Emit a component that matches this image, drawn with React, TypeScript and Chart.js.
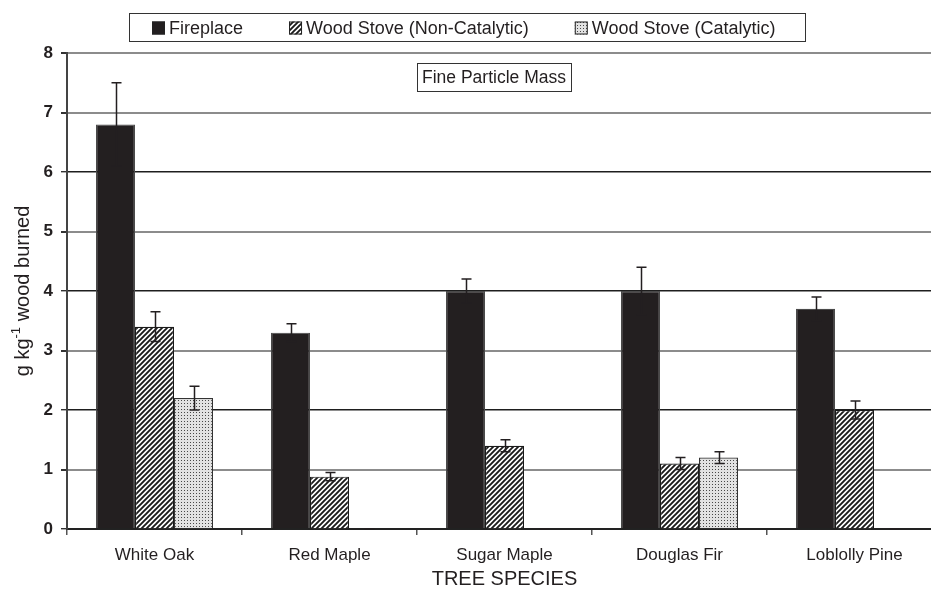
import React, { useEffect, useRef } from 'react';
import { Chart, registerables } from 'chart.js';

Chart.register(...registerables);

// ---- data ----
const categories = ['White Oak', 'Red Maple', 'Sugar Maple', 'Douglas Fir', 'Loblolly Pine'];
const seriesNames = ['Fireplace', 'Wood Stove (Non-Catalytic)', 'Wood Stove (Catalytic)'];
const fireplace = [6.8, 3.3, 4.0, 4.0, 3.7];
const fireplaceErr = [0.7, 0.15, 0.2, 0.4, 0.2];
const nonCatalytic = [3.4, 0.88, 1.4, 1.1, 2.0];
const nonCatalyticErr = [0.25, 0.07, 0.1, 0.1, 0.15];
const catalytic = [2.2, 0, 0, 1.2, 0];
const catalyticErr = [0.2, 0, 0, 0.1, 0];
const yMin = 0;
const yMax = 8;
const yStep = 1;
const chartTitle = 'Fine Particle Mass';
const xTitle = 'TREE SPECIES';
const yTitleMain = 'g kg';
const yTitleSup = '-1';
const yTitleRest = ' wood burned';

const FONT = "'Liberation Sans', Arial, sans-serif";
const INK = '#231f20';

function makeHatch(): CanvasPattern | string {
  const c = document.createElement('canvas');
  const s = 5;
  c.width = s;
  c.height = s;
  const g = c.getContext('2d');
  if (!g) return '#888';
  g.fillStyle = '#ffffff';
  g.fillRect(0, 0, s, s);
  g.strokeStyle = '#1a1a1a';
  g.lineWidth = 1.9;
  g.beginPath();
  g.moveTo(0, s);
  g.lineTo(s, 0);
  g.moveTo(-1, 1);
  g.lineTo(1, -1);
  g.moveTo(s - 1, s + 1);
  g.lineTo(s + 1, s - 1);
  g.stroke();
  return g.createPattern(c, 'repeat') || '#888';
}

function makeDots(): CanvasPattern | string {
  const c = document.createElement('canvas');
  c.width = 3;
  c.height = 3;
  const g = c.getContext('2d');
  if (!g) return '#ddd';
  g.fillStyle = '#e2e2e2';
  g.fillRect(0, 0, 3, 3);
  g.fillStyle = '#484848';
  g.fillRect(1, 1, 1, 1);
  return g.createPattern(c, 'repeat') || '#ddd';
}

export default function App() {
  const ref = useRef<HTMLCanvasElement | null>(null);

  useEffect(() => {
    const canvas = ref.current;
    if (!canvas) return;
    const hatch = makeHatch();
    const dots = makeDots();
    const fills = ['#231f20', hatch, dots];
    const borders = ['#4a4a4a', '#1a1a1a', '#333333'];
    const values = [fireplace, nonCatalytic, catalytic];
    const errors = [fireplaceErr, nonCatalyticErr, catalyticErr];

    const errorBars = {
      id: 'errorBars',
      afterDatasetsDraw(chart: any) {
        const ctx = chart.ctx;
        const ys = chart.scales.y;
        ctx.save();
        ctx.strokeStyle = INK;
        ctx.lineWidth = 1.5;
        chart.data.datasets.forEach((ds: any, i: number) => {
          const meta = chart.getDatasetMeta(i);
          meta.data.forEach((bar: any, j: number) => {
            const v = ds.data[j];
            const e = errors[i][j];
            const x = Math.round(bar.x) + 0.5;
            const yt = ys.getPixelForValue(v + e);
            const yb = ys.getPixelForValue(Math.max(0, v - e));
            ctx.beginPath();
            ctx.moveTo(x, yt);
            ctx.lineTo(x, yb);
            ctx.moveTo(x - 5, yt);
            ctx.lineTo(x + 5, yt);
            ctx.moveTo(x - 5, yb);
            ctx.lineTo(x + 5, yb);
            ctx.stroke();
          });
        });
        ctx.restore();
      },
    };

    const decorations = {
      id: 'decorations',
      afterDraw(chart: any) {
        const ctx = chart.ctx;
        const area = chart.chartArea;
        ctx.save();
        // title box inside plot
        ctx.font = `17.5px ${FONT}`;
        ctx.fillStyle = INK;
        ctx.textAlign = 'center';
        ctx.textBaseline = 'middle';
        const tcx = 494;
        const tcy = 78;
        const tw = ctx.measureText(chartTitle).width;
        ctx.strokeStyle = '#333';
        ctx.lineWidth = 1;
        ctx.strokeRect(Math.round(tcx - tw / 2 - 5) + 0.5, 63.5, Math.round(tw + 10), 28);
        ctx.fillText(chartTitle, tcx, tcy);

        // legend
        ctx.font = `18px ${FONT}`;
        ctx.textAlign = 'left';
        ctx.textBaseline = 'middle';
        ctx.strokeRect(129.5, 13.5, 676, 28);
        let x = 152;
        const ly = 28;
        seriesNames.forEach((name, i) => {
          ctx.fillStyle = fills[i] as any;
          ctx.fillRect(x, ly - 6.5, 13, 13);
          ctx.strokeStyle = '#222';
          ctx.lineWidth = 1;
          ctx.strokeRect(x + 0.5, ly - 6, 12, 12);
          ctx.fillStyle = INK;
          ctx.fillText(name, x + 17, ly + 1);
          x += 17 + ctx.measureText(name).width + 46;
        });

        // y-axis title with superscript
        const mainFont = `20px ${FONT}`;
        const supFont = `13px ${FONT}`;
        ctx.font = mainFont;
        const w1 = ctx.measureText(yTitleMain).width;
        const w3 = ctx.measureText(yTitleRest).width;
        ctx.font = supFont;
        const w2 = ctx.measureText(yTitleSup).width;
        const total = w1 + w2 + w3;
        const cy = (area.top + area.bottom) / 2;
        ctx.translate(22, cy);
        ctx.rotate(-Math.PI / 2);
        ctx.fillStyle = INK;
        ctx.textBaseline = 'alphabetic';
        let sx = -total / 2;
        ctx.font = mainFont;
        ctx.fillText(yTitleMain, sx, 7);
        sx += w1;
        ctx.font = supFont;
        ctx.fillText(yTitleSup, sx, -2);
        sx += w2;
        ctx.font = mainFont;
        ctx.fillText(yTitleRest, sx, 7);
        ctx.restore();
      },
    };

    const chart = new Chart(canvas, {
      type: 'bar',
      data: {
        labels: categories,
        datasets: seriesNames.map((name, i) => ({
          label: name,
          data: values[i],
          backgroundColor: fills[i] as any,
          borderColor: borders[i],
          borderWidth: 1.2,
          barPercentage: 1,
          categoryPercentage: 117 / 175,
        })),
      },
      options: {
        responsive: false,
        animation: false,
        devicePixelRatio: 1,
        layout: { padding: { top: 53, right: 3, left: 0, bottom: 0 } },
        plugins: {
          legend: { display: false },
          tooltip: { enabled: false },
          title: { display: false },
        },
        scales: {
          x: {
            type: 'category',
            offset: true,
            grid: {
              offset: true,
              drawOnChartArea: false,
              drawTicks: true,
              tickLength: 6,
              color: '#555',
              lineWidth: 1.5,
            },
            border: { display: true, color: '#222', width: 2 },
            ticks: {
              color: INK,
              font: { family: FONT, size: 17 },
              padding: 10,
              maxRotation: 0,
            },
            title: {
              display: true,
              text: xTitle,
              color: INK,
              font: { family: FONT, size: 20 },
              padding: { top: 4, bottom: 4 },
            },
            afterFit(scale: any) {
              scale.height = 66;
            },
          },
          y: {
            min: yMin,
            max: yMax,
            ticks: {
              stepSize: yStep,
              color: INK,
              font: { family: FONT, size: 17, weight: 'bold' },
              padding: 8,
            },
            grid: {
              drawTicks: true,
              tickLength: 6,
              tickColor: '#333',
              color: (ctx: any) => {
                const v = ctx.tick ? ctx.tick.value : 0;
                return v % 2 === 0 && v !== 8 ? '#1e1e1e' : '#8c8c8c';
              },
              lineWidth: (ctx: any) => {
                const v = ctx.tick ? ctx.tick.value : 0;
                return v % 2 === 0 && v !== 8 ? 1.4 : 2;
              },
            },
            border: { display: true, color: '#444', width: 2 },
            afterFit(scale: any) {
              scale.width = 67;
            },
          },
        },
      },
      plugins: [errorBars, decorations],
    } as any);

    return () => chart.destroy();
  }, []);

  return (
    <div
      style={{
        position: 'fixed',
        left: 0,
        top: 0,
        width: 931,
        height: 595,
        overflow: 'hidden',
        background: '#ffffff',
      }}
    >
      <canvas ref={ref} width={945} height={595} style={{ display: 'block' }} />
    </div>
  );
}
